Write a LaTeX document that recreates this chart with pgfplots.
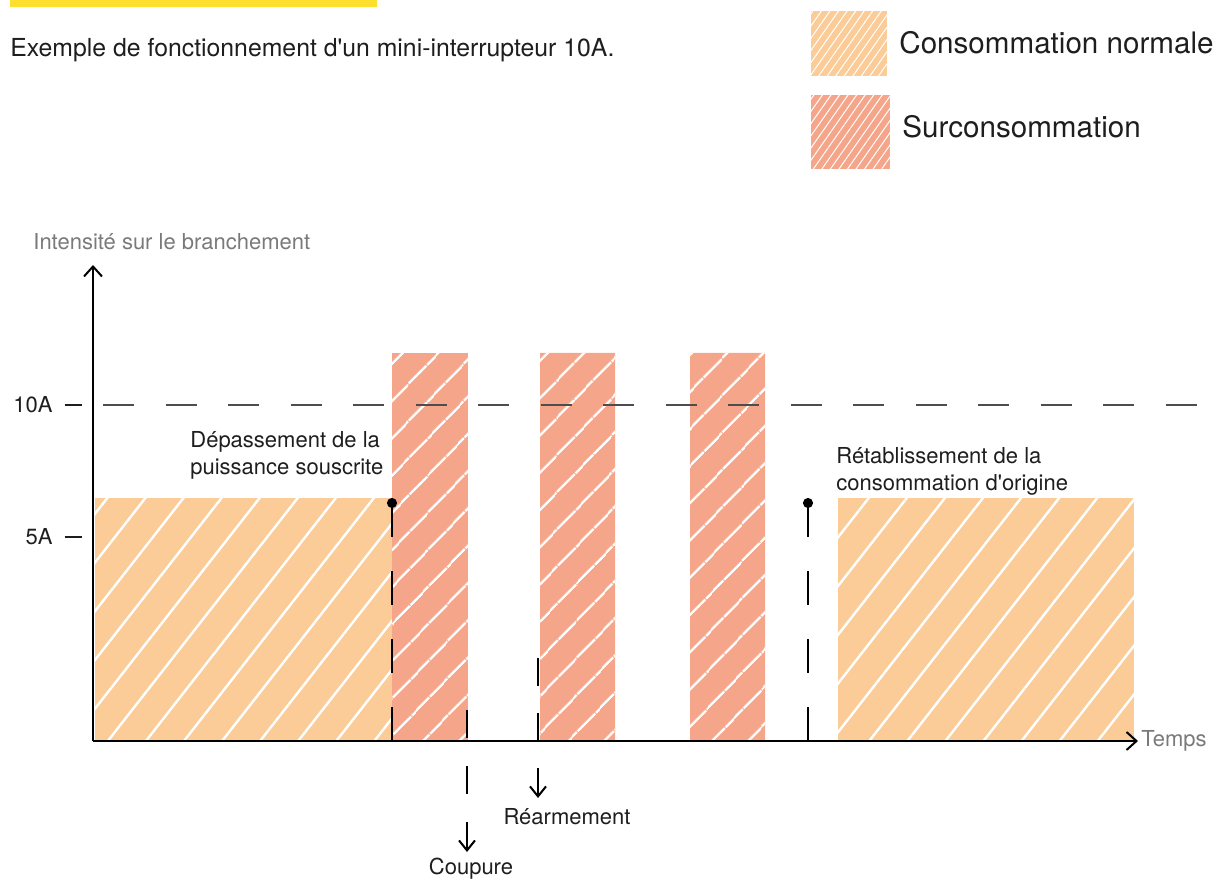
\documentclass[border=0pt]{standalone}
\usepackage{pgfplots}
\pgfplotsset{compat=1.18}
\usepackage{fontspec}
\setmainfont{TeX Gyre Heros}[Ligatures=TeXOff]
\usetikzlibrary{patterns.meta, arrows.meta}
\definecolor{normalc}{HTML}{FBCC97}
\definecolor{overc}{HTML}{F5A68A}
\definecolor{yel}{HTML}{FDDF2E}
\definecolor{txt}{HTML}{1E1E1E}
\definecolor{graytxt}{HTML}{7A7A7A}
\definecolor{dashc}{HTML}{4D4D4D}
\begin{document}
\begin{tikzpicture}
\begin{axis}[
  x=0.5pt, y=0.5pt,
  xmin=0, xmax=1045, ymin=0, ymax=476,
  axis x line=bottom, axis y line=left,
  axis on top,
  axis line style={line width=1.1pt, black, -{Straight Barb[length=5pt,width=9pt,line width=1pt]}},
  xtick=\empty,
  ytick={204,336},
  yticklabels={5A\hspace{6pt}\rule[0.31em]{8.5pt}{1pt}, 10A\hspace{6pt}\rule[0.31em]{8.5pt}{1pt}},
  major tick length=0pt,
  yticklabel style={font=\fontsize{11}{13}\selectfont\color{txt}, inner sep=0pt, xshift=-5.5pt},
  clip=false,
]
% normal consumption bars
\addplot[ybar, bar width=297, bar shift=0pt, fill=normalc, draw=none,
  postaction={pattern={Lines[angle=52,distance=15pt,line width=1.2pt]}, pattern color=white}]
  coordinates {(150.5,243)};
\addplot[ybar, bar width=296, bar shift=0pt, fill=normalc, draw=none,
  postaction={pattern={Lines[angle=52,distance=15pt,line width=1.2pt]}, pattern color=white}]
  coordinates {(893,243)};
% overconsumption bars
\addplot[ybar, bar width=76, bar shift=0pt, fill=overc, draw=none,
  postaction={pattern={Lines[angle=46,distance=13pt,line width=1.2pt]}, pattern color=white}]
  coordinates {(337,388)};
\addplot[ybar, bar width=75, bar shift=0pt, fill=overc, draw=none,
  postaction={pattern={Lines[angle=46,distance=13pt,line width=1.2pt]}, pattern color=white}]
  coordinates {(484.5,388) (634.5,388)};
% 10A threshold
\addplot[dashc, line width=0.9pt, dash pattern=on 15.5pt off 15.75pt] coordinates {(10,336) (1105,336)};
% pins
\addplot[black, line width=1pt, dash pattern=on 17pt off 17pt, mark=*, mark size=2pt, mark indices={1}, mark options={solid}]
  coordinates {(299,238) (299,0)};
\addplot[black, line width=1pt, dash pattern=on 17pt off 17pt, mark=*, mark size=2pt, mark indices={1}, mark options={solid}]
  coordinates {(715,238) (715,0)};
% Coupure
\addplot[black, line width=1pt, dash pattern=on 14pt off 14pt] coordinates {(374,31) (374,-53)};
\addplot[black, line width=1pt, -{Straight Barb[length=5pt,width=8pt]}] coordinates {(374,-81) (374,-111)};
% Rearmement
\addplot[black, line width=1pt, dash pattern=on 13.75pt off 13.75pt] coordinates {(445,83) (445,0)};
\addplot[black, line width=1pt, -{Straight Barb[length=5pt,width=8pt]}] coordinates {(445,-27) (445,-57)};

% texts
\node[anchor=north west, align=left, inner sep=0pt, text=txt, font=\fontsize{11}{13.5}\selectfont] at (axis cs:97,310) {Dépassement de la\\puissance souscrite};
\node[anchor=north west, align=left, inner sep=0pt, text=txt, font=\fontsize{11}{13.5}\selectfont] at (axis cs:743,294) {Rétablissement de la\\consommation d'origine};
\node[inner sep=0pt, text=txt, font=\fontsize{11}{13}\selectfont] at (axis cs:378,-128) {Coupure};
\node[inner sep=0pt, text=txt, font=\fontsize{11}{13}\selectfont] at (axis cs:474,-76) {Réarmement};
\node[anchor=west, inner sep=0pt, text=graytxt, font=\fontsize{11}{13}\selectfont] at (axis cs:1048,0) {Temps};
\node[anchor=west, inner sep=0pt, text=graytxt, font=\fontsize{11}{13}\selectfont] at (axis cs:-60,499) {Intensité sur le branchement};
\node[anchor=west, inner sep=0pt, text=txt, font=\fontsize{12.4}{15}\selectfont] at (axis cs:-83,691) {Exemple de fonctionnement d'un mini-interrupteur 10A.};
\fill[yel] (axis cs:-83,734) rectangle (axis cs:284,741);
% legend
\fill[normalc] (axis cs:718,665) rectangle (axis cs:794,730);
\fill[pattern={Lines[angle=55,distance=3.5pt,line width=0.5pt]}, pattern color=white] (axis cs:718,665) rectangle (axis cs:794,730);
\fill[overc] (axis cs:718,572) rectangle (axis cs:797,646);
\fill[pattern={Lines[angle=55,distance=3.5pt,line width=0.5pt]}, pattern color=white] (axis cs:718,572) rectangle (axis cs:797,646);
\node[anchor=west, inner sep=0pt, text=txt, font=\fontsize{14.8}{17}\selectfont] at (axis cs:806,698) {Consommation normale};
\node[anchor=west, inner sep=0pt, text=txt, font=\fontsize{14.8}{17}\selectfont] at (axis cs:809,614) {Surconsommation};
\coordinate (bl) at (axis cs:-93,-138);
\coordinate (tr) at (axis cs:1122,741);
\end{axis}
\pgfresetboundingbox
\useasboundingbox (bl) rectangle (tr);
\end{tikzpicture}
\end{document}
